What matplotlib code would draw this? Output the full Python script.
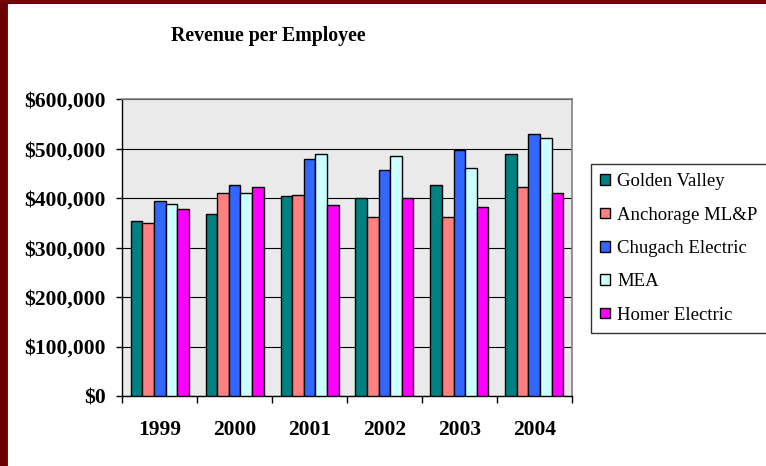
import matplotlib
matplotlib.use("Agg")
import matplotlib.pyplot as plt
import numpy as np
from matplotlib.patches import Rectangle

years = ["1999", "2000", "2001", "2002", "2003", "2004"]
series_names = ["Golden Valley", "Anchorage ML&P", "Chugach Electric", "MEA", "Homer Electric"]
golden_valley = [354000, 369000, 404000, 401000, 426000, 490000]
anchorage = [350000, 411000, 407000, 362000, 362000, 422000]
chugach = [394000, 426000, 479000, 458000, 497000, 529000]
mea = [389000, 411000, 490000, 486000, 461000, 522000]
homer = [379000, 422000, 386000, 400000, 382000, 411000]
colors = ["#008080", "#FF8080", "#3366FF", "#CCFFFF", "#FF00FF"]
yticks = [0, 100000, 200000, 300000, 400000, 500000, 600000]
ytick_labels = ["$0", "$100,000", "$200,000", "$300,000", "$400,000", "$500,000", "$600,000"]

W, H = 766, 466
fig = plt.figure(figsize=(W / 100, H / 100), dpi=100)
fig.patch.set_facecolor("white")

ax = fig.add_axes([122.3 / W, 1 - 396 / H, (571.7 - 122.3) / W, (396 - 99.3) / H])
ax.set_facecolor("#eaeaea")

data = [golden_valley, anchorage, chugach, mea, homer]
x = np.arange(len(years))
bw = 0.155
for i, (vals, name, c) in enumerate(zip(data, series_names, colors)):
    ax.bar(x + (i - 2) * bw, vals, width=bw, color=c, edgecolor="black",
           linewidth=1.0, label=name, zorder=3)

ax.set_xlim(-0.5, len(years) - 0.5)
ax.set_ylim(0, 600000)
ax.set_yticks(yticks)
ax.set_yticklabels(ytick_labels)
ax.yaxis.grid(True, color="black", linewidth=0.8, zorder=1)
ax.set_axisbelow(True)

ax.set_xticks(x)
ax.set_xticklabels(years)
ax.set_xticks(np.arange(-0.5, len(years), 1.0), minor=True)
ax.tick_params(axis="x", which="major", length=0, pad=17)
ax.tick_params(axis="x", which="minor", length=5, width=1, direction="out", color="black")
ax.tick_params(axis="y", length=4, width=1, direction="out", pad=8)

serif = ["Liberation Serif", "DejaVu Serif"]
for lab in ax.get_xticklabels() + ax.get_yticklabels():
    lab.set_family(serif)
    lab.set_fontweight("bold")
    lab.set_fontsize(15.5)

for s in ["top", "right"]:
    ax.spines[s].set_color("#808080")
    ax.spines[s].set_linewidth(1.2)
for s in ["left", "bottom"]:
    ax.spines[s].set_color("black")
    ax.spines[s].set_linewidth(1.0)

fig.text(268 / W, 1 - 36 / H, "Revenue per Employee", ha="center", va="center",
         family=serif, fontweight="bold", fontsize=14.3)

leg = fig.legend(loc="upper left", bbox_to_anchor=(591 / W, 1 - 164 / H),
                 prop={"family": serif, "size": 13.5}, frameon=True, fancybox=False,
                 edgecolor="black", borderaxespad=0, borderpad=0.5,
                 handlelength=0.5, handleheight=0.5, handletextpad=0.4,
                 labelspacing=0.87)
leg.get_frame().set_linewidth(1.0)

# dark red frame edges
fig.patches.append(Rectangle((0, 0), 7 / W, 1, transform=fig.transFigure,
                             facecolor="#6a0000", edgecolor="none", zorder=10))
fig.patches.append(Rectangle((7 / W, 0), 1.2 / W, 1 - 3 / H, transform=fig.transFigure,
                             facecolor="#303030", edgecolor="none", zorder=10))
fig.patches.append(Rectangle((0, 1 - 3 / H), 1, 3 / H, transform=fig.transFigure,
                             facecolor="#7a0000", edgecolor="none", zorder=10))
fig.patches.append(Rectangle((0, 1 - 4 / H), 1, 1.2 / H, transform=fig.transFigure,
                             facecolor="#202020", edgecolor="none", zorder=10))

fig.savefig("out.png", dpi=100)
